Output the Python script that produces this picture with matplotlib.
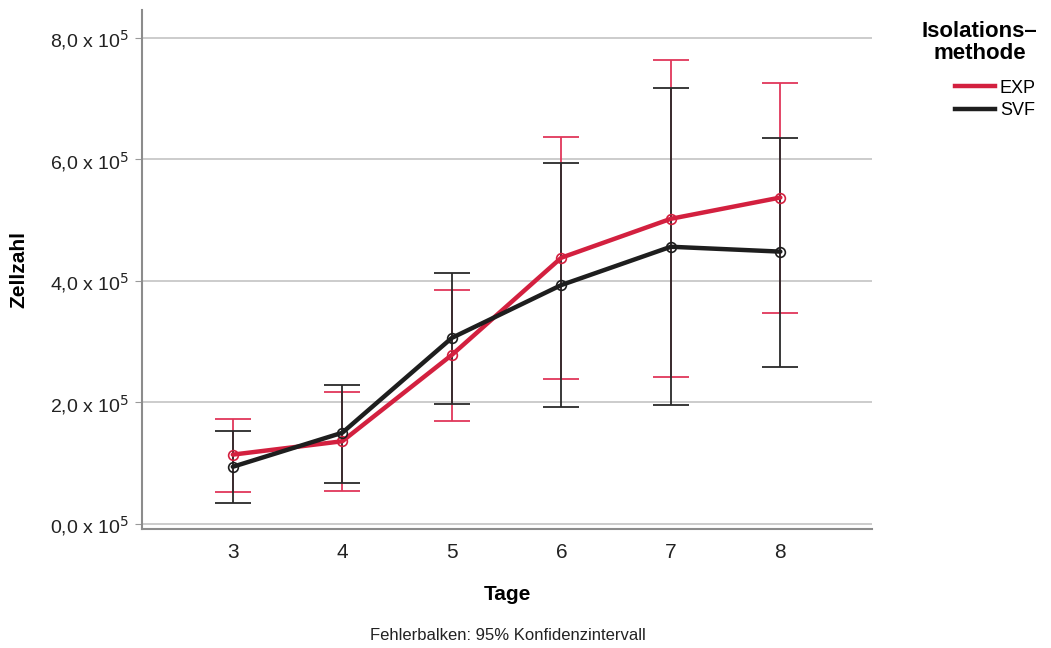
import matplotlib.pyplot as plt
from matplotlib.lines import Line2D

plt.rcParams['font.family'] = ['Liberation Sans', 'DejaVu Sans']

# Tage
days = [3, 4, 5, 6, 7, 8]

# EXP: Mittelwerte und 95%-KI (in 1e5 Zellen)
exp_mean = [1.14, 1.36, 2.78, 4.38, 5.02, 5.37]
exp_low = [0.53, 0.54, 1.70, 2.39, 2.42, 3.47]
exp_high = [1.73, 2.17, 3.85, 6.37, 7.63, 7.26]

# SVF: Mittelwerte und 95%-KI (in 1e5 Zellen)
svf_mean = [0.94, 1.50, 3.06, 3.93, 4.56, 4.48]
svf_low = [0.34, 0.67, 1.98, 1.93, 1.96, 2.58]
svf_high = [1.53, 2.29, 4.13, 5.93, 7.17, 6.35]

y_ticks = [0, 2, 4, 6, 8]
y_labels = [r'0,0 x 10$^5$', r'2,0 x 10$^5$', r'4,0 x 10$^5$', r'6,0 x 10$^5$', r'8,0 x 10$^5$']

red = '#d3203f'
black = '#1e1e1e'

fig = plt.figure(figsize=(10.51, 6.48), dpi=100)
ax = fig.add_axes([0.135, 0.184, 0.695, 0.801])

def draw(mean, low, high, color, ecolor):
    yerr = [[m - l for m, l in zip(mean, low)], [h - m for m, h in zip(mean, high)]]
    ax.errorbar(days, mean, yerr=yerr, fmt='none', ecolor=ecolor, elinewidth=1.3,
                capsize=13, capthick=1.3, zorder=3)
    ax.plot(days, mean, color=color, lw=3.2, zorder=4, solid_capstyle='round')
    ax.plot(days, mean, 'o', ms=7, mfc='none', mec=color, mew=1.2, zorder=5)

draw(exp_mean, exp_low, exp_high, red, '#e0375a')
draw(svf_mean, svf_low, svf_high, black, '#2a2a2a')

ax.set_xlim(2.17, 8.84)
ax.set_ylim(-0.08, 8.46)
ax.set_xticks(days)
ax.set_xticklabels([str(d) for d in days], fontsize=15, color='#222222')
ax.set_yticks(y_ticks)
ax.set_yticklabels(y_labels, fontsize=14, color='#222222')
ax.tick_params(axis='x', length=0, pad=10)
ax.tick_params(axis='y', length=5, color='#999999', pad=4)
ax.yaxis.grid(True, color='#c8c8c8', lw=1.3)
ax.set_axisbelow(True)
for s in ['top', 'right']:
    ax.spines[s].set_visible(False)
for s in ['left', 'bottom']:
    ax.spines[s].set_color('#8c8c8c')
    ax.spines[s].set_linewidth(1.5)

ax.set_xlabel('Tage', fontsize=15, fontweight='bold', labelpad=17)
ax.set_ylabel('Zellzahl', fontsize=15, fontweight='bold', labelpad=16)

# Legende: Titel zentriert, Einträge darunter
fig.text(0.932, 0.968, 'Isolations–\nmethode', ha='center', va='top',
         fontsize=16, fontweight='bold', linespacing=1.1)
handles = [Line2D([0], [0], color=red, lw=3.2), Line2D([0], [0], color=black, lw=3.2)]
fig.legend(handles, ['EXP', 'SVF'], loc='upper left', bbox_to_anchor=(0.893, 0.902),
           frameon=False, fontsize=13, handlelength=2.2, handletextpad=0.3,
           labelspacing=0.3)

fig.text(0.483, 0.012, 'Fehlerbalken: 95% Konfidenzintervall', ha='center', fontsize=12, color='#222222')

fig.savefig('out.png', dpi=100)
